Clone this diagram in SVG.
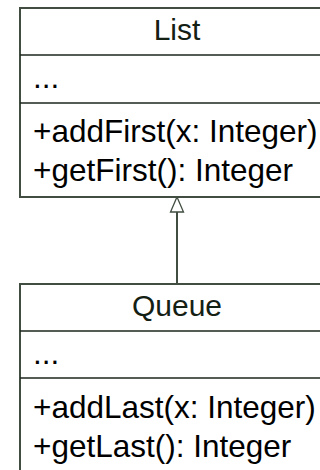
<svg xmlns="http://www.w3.org/2000/svg" width="320" height="470" viewBox="0 0 320 470">
  <style>
    .box { fill: #ffffff; stroke: #414d41; stroke-width: 2; }
    .sep { stroke: #1c261c; stroke-width: 1.5; }
    .title { font-family: "Liberation Sans", Arial, sans-serif; font-size: 30px; fill: #142014; text-anchor: middle; }
    .member { font-family: "Liberation Sans", Arial, sans-serif; font-size: 31.5px; fill: #000000; }
    .edge { fill: none; stroke: #414d41; stroke-width: 2; }
    .head { fill: #ffffff; stroke: #414d41; stroke-width: 1.3; }
  </style>

  <g id="connectors">
    <!-- generalization: Queue to List, hollow triangle at List -->
    <path class="edge" d="M177,284 L177,212"/>
    <path class="head" d="M177,197 L183.5,212 L170.5,212 Z"/>
  </g>

  <g id="List">
    <rect class="box" x="20" y="8" width="320" height="189"/>
    <line class="sep" x1="20" y1="55" x2="320" y2="55"/>
    <line class="sep" x1="20" y1="103" x2="320" y2="103"/>
    <text class="title" x="177" y="40">List</text>
    <text class="member" x="33" y="88">...</text>
    <text class="member" x="33" y="142">+addFirst(x: Integer)</text>
    <text class="member" x="33" y="181">+getFirst(): Integer</text>
  </g>

  <g id="Queue">
    <rect class="box" x="20" y="284" width="320" height="200"/>
    <line class="sep" x1="20" y1="331" x2="320" y2="331"/>
    <line class="sep" x1="20" y1="378" x2="320" y2="378"/>
    <text class="title" x="177" y="316">Queue</text>
    <text class="member" x="33" y="364">...</text>
    <text class="member" x="33" y="418">+addLast(x: Integer)</text>
    <text class="member" x="33" y="457">+getLast(): Integer</text>
  </g>
</svg>
